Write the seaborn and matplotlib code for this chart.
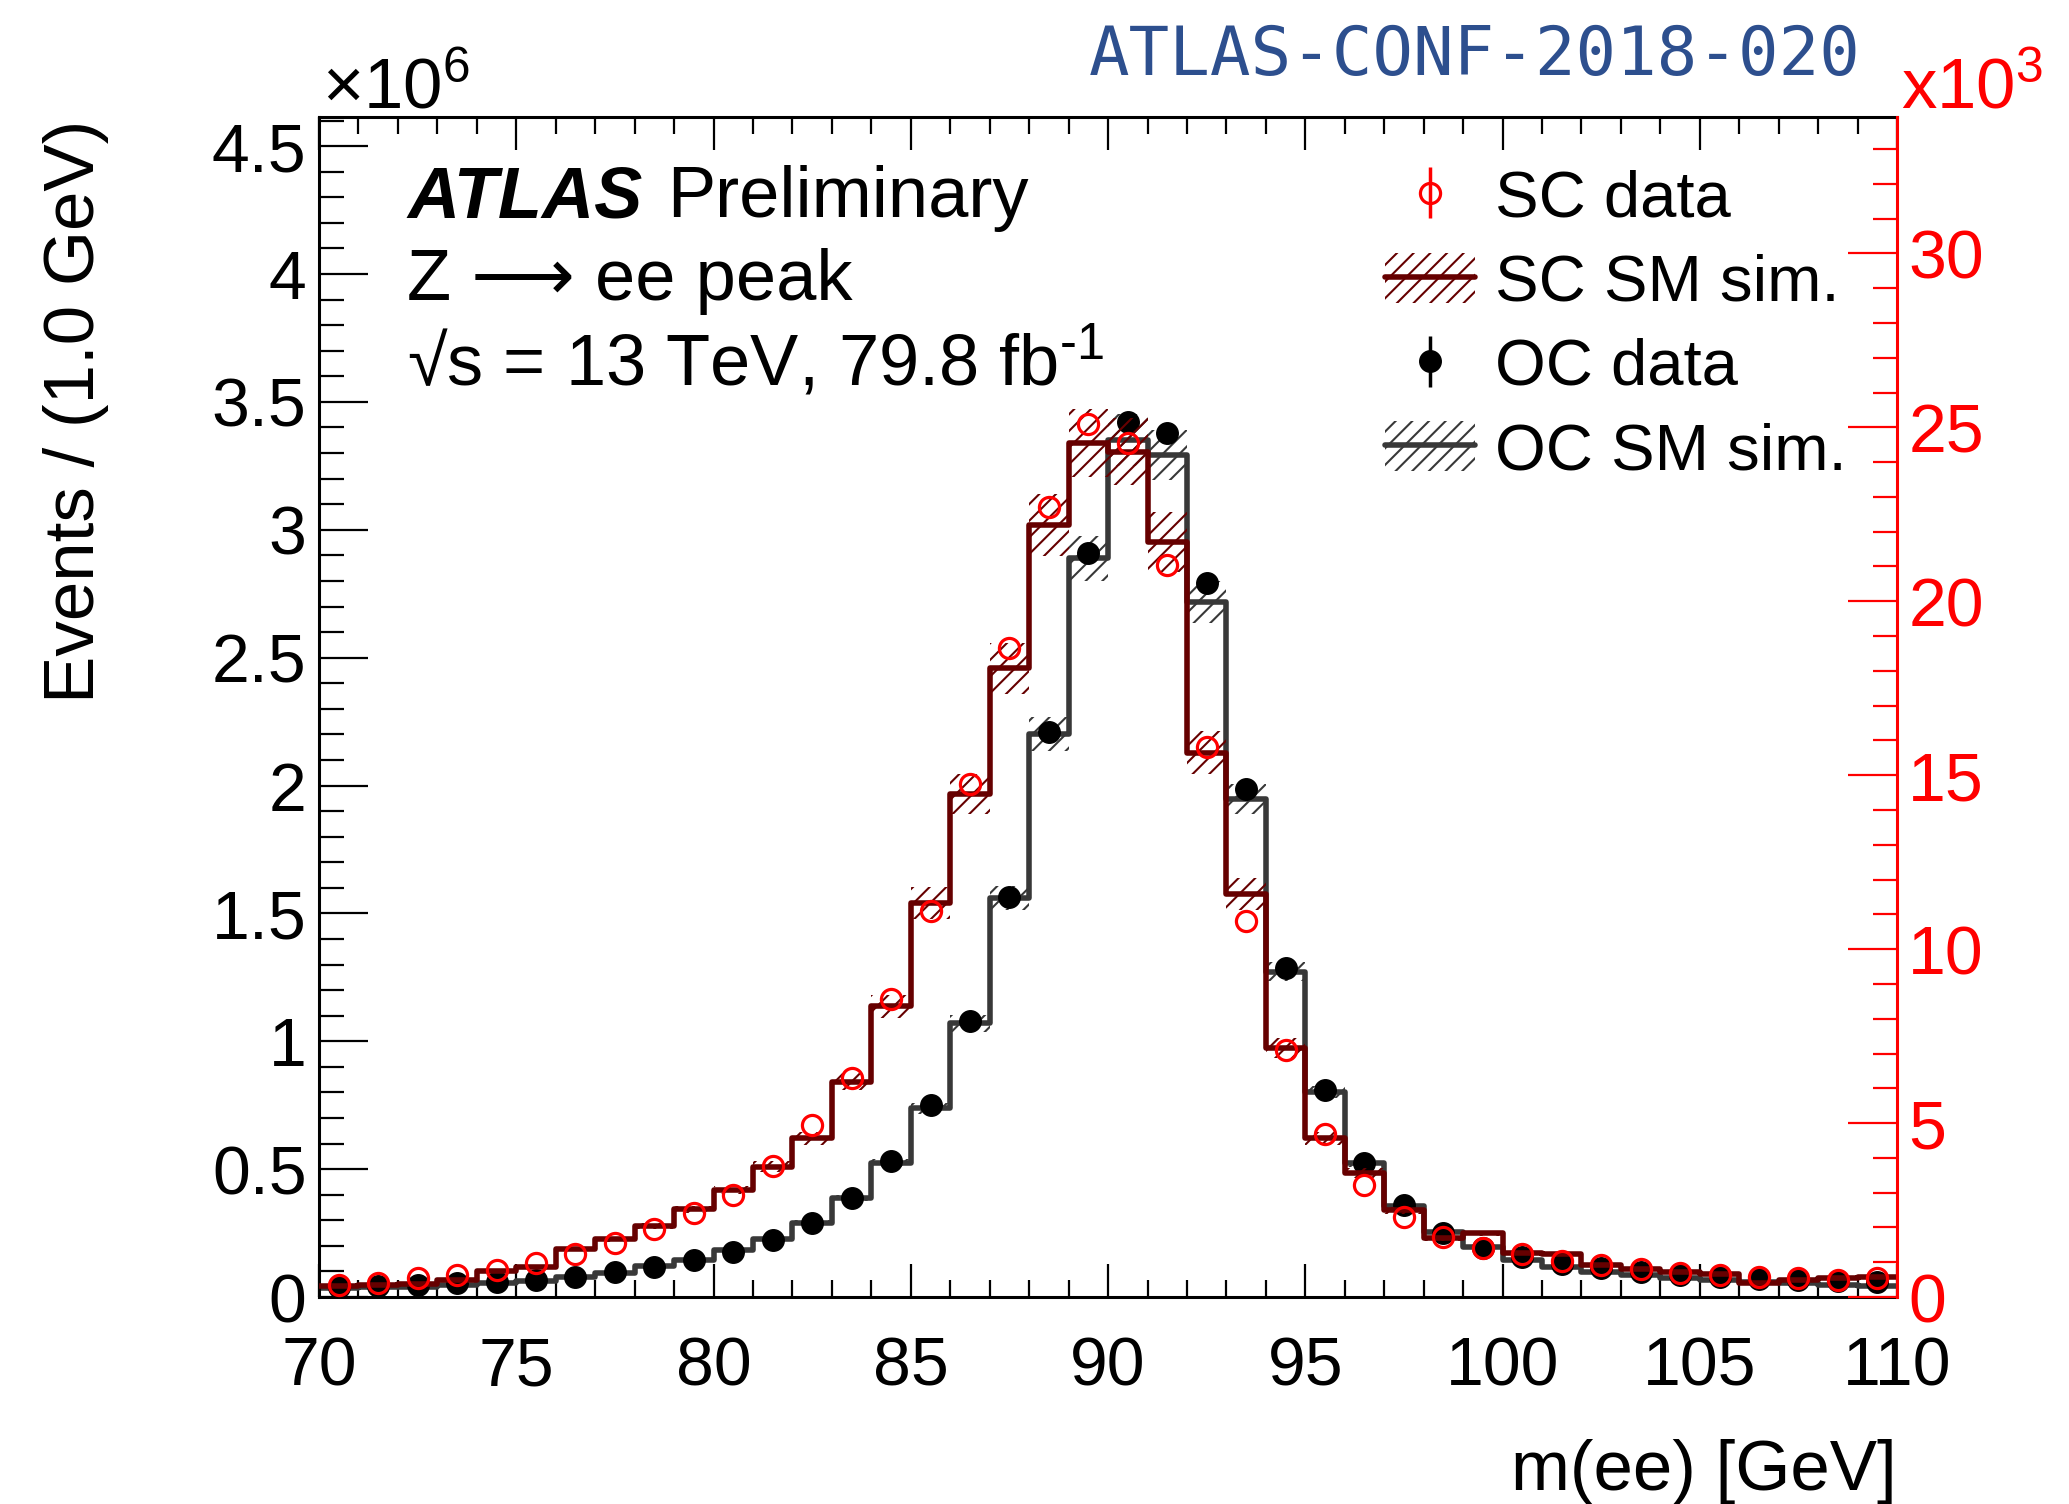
import numpy as np
import pandas as pd
import matplotlib
matplotlib.use("Agg")
import matplotlib.pyplot as plt
import seaborn as sns
from matplotlib.patches import Patch
from matplotlib.lines import Line2D
from matplotlib.ticker import MultipleLocator, FormatStrFormatter
from matplotlib.legend_handler import HandlerErrorbar, HandlerTuple

sns.set_style("ticks")
plt.rcParams['font.family'] = ['Liberation Sans', 'DejaVu Sans']
plt.rcParams['mathtext.fontset'] = 'custom'
plt.rcParams['mathtext.rm'] = 'Liberation Sans'
plt.rcParams['mathtext.it'] = 'Liberation Sans:italic'
plt.rcParams['mathtext.bf'] = 'Liberation Sans:bold'
plt.rcParams['hatch.linewidth'] = 1.5
for k in ['text.color', 'axes.labelcolor', 'xtick.color', 'ytick.color', 'axes.edgecolor']:
    plt.rcParams[k] = 'black'

# bins de 1 GeV entre 70 y 110 GeV
bordes = np.arange(70, 111, 1)
centros = bordes[:-1] + 0.5

# OC (eje izquierdo, x10^6 eventos)
oc_data = [0.040, 0.045, 0.049, 0.053, 0.058, 0.066, 0.079, 0.099, 0.119, 0.145,
           0.177, 0.223, 0.291, 0.386, 0.533, 0.751, 1.080, 1.565, 2.210, 2.910,
           3.423, 3.377, 2.791, 1.985, 1.285, 0.809, 0.523, 0.360, 0.249, 0.190,
           0.158, 0.129, 0.112, 0.099, 0.086, 0.079, 0.069, 0.066, 0.062, 0.060]
oc_sim = [0.034, 0.038, 0.040, 0.047, 0.053, 0.064, 0.079, 0.095, 0.121, 0.145,
          0.184, 0.226, 0.291, 0.386, 0.523, 0.738, 1.070, 1.560, 2.201, 2.888,
          3.351, 3.292, 2.719, 1.946, 1.272, 0.803, 0.523, 0.356, 0.255, 0.197,
          0.145, 0.116, 0.099, 0.086, 0.073, 0.066, 0.060, 0.053, 0.047, 0.043]

# SC (eje derecho, x10^3 eventos)
sc_data = [0.345, 0.39, 0.54, 0.63, 0.78, 0.99, 1.23, 1.54, 1.95, 2.41,
           2.93, 3.77, 4.94, 6.29, 8.56, 11.1, 14.75, 18.65, 22.72, 25.11,
           24.54, 21.04, 15.82, 10.82, 7.10, 4.70, 3.22, 2.31, 1.73, 1.40,
           1.23, 1.03, 0.92, 0.80, 0.68, 0.63, 0.58, 0.54, 0.49, 0.54]
sc_sim = [0.33, 0.34, 0.38, 0.48, 0.76, 0.87, 1.37, 1.66, 2.04, 2.52,
          3.08, 3.75, 4.56, 6.19, 8.36, 11.32, 14.45, 18.07, 22.19, 24.54,
          24.30, 21.71, 15.65, 11.58, 7.15, 4.56, 3.56, 2.50, 1.69, 1.83,
          1.26, 1.24, 0.92, 0.82, 0.73, 0.65, 0.39, 0.49, 0.54, 0.58]

# incertidumbre relativa de la simulacion (banda rayada)
oc_unc = 0.03
sc_unc = 0.04

rojo = '#ff0000'
rojo_osc = '#660000'
gris = '#383838'
lw_hist = 4.0

df = pd.DataFrame({'mee': centros, 'oc_sim': oc_sim, 'sc_sim': sc_sim})

fig = plt.figure(figsize=(20.69, 15.04), dpi=100)
ax = fig.add_axes([0.1542, 0.1376, 0.7627, 0.7846])
ax2 = ax.twinx()


def engrosar(eje):
    # seaborn deja la linea fina: se fuerza el grosor del contorno
    for ln in eje.lines:
        ln.set_linewidth(lw_hist)
    for col in eje.collections:
        col.set_linewidth(lw_hist)


# --- OC ---
oc_sim_a = np.array(oc_sim)
ax.stairs(oc_sim_a * (1 + oc_unc), bordes, baseline=oc_sim_a * (1 - oc_unc), fill=True,
          hatch='//', facecolor='none', edgecolor=gris, linewidth=0)
sns.histplot(data=df, x='mee', weights='oc_sim', binwidth=1, binrange=(70, 110),
             element='step', fill=False, color=gris, linewidth=lw_hist, ax=ax)
engrosar(ax)
ax.errorbar(centros, oc_data, yerr=np.zeros(len(centros)), fmt='o', color='black',
            markersize=15.5, elinewidth=2.5, capsize=0, zorder=5)

# --- SC ---
sc_sim_a = np.array(sc_sim)
ax2.stairs(sc_sim_a * (1 + sc_unc), bordes, baseline=sc_sim_a * (1 - sc_unc), fill=True,
           hatch='//', facecolor='none', edgecolor=rojo_osc, linewidth=0)
sns.histplot(data=df, x='mee', weights='sc_sim', binwidth=1, binrange=(70, 110),
             element='step', fill=False, color=rojo_osc, linewidth=lw_hist, ax=ax2)
engrosar(ax2)
sc_cont = ax2.errorbar(centros, sc_data, yerr=np.zeros(len(centros)), fmt='o', color=rojo,
                       markerfacecolor='none', markeredgecolor=rojo, markersize=14.5,
                       markeredgewidth=2.3, elinewidth=2.5, capsize=0, zorder=6)

# --- ejes ---
ax.set_xlim(70, 110)
ax.set_ylim(0, 4.614)
ax2.set_ylim(0, 33.92)
ax.set_xlabel('')
ax.set_ylabel('')
ax2.set_ylabel('')

ax.xaxis.set_major_locator(MultipleLocator(5))
ax.xaxis.set_minor_locator(MultipleLocator(1))
ax.yaxis.set_major_locator(MultipleLocator(0.5))
ax.yaxis.set_minor_locator(MultipleLocator(0.1))
ax2.yaxis.set_major_locator(MultipleLocator(5))
ax2.yaxis.set_minor_locator(MultipleLocator(1))
ax.xaxis.set_major_formatter(FormatStrFormatter('%g'))
ax.yaxis.set_major_formatter(FormatStrFormatter('%g'))
ax2.yaxis.set_major_formatter(FormatStrFormatter('%g'))

for s in ['left', 'top', 'bottom']:
    ax.spines[s].set_linewidth(2.2)
    ax.spines[s].set_color('black')
ax.spines['right'].set_visible(False)
for s in ['left', 'top', 'bottom']:
    ax2.spines[s].set_visible(False)
ax2.spines['right'].set_color(rojo)
ax2.spines['right'].set_linewidth(2.2)

ax.tick_params(axis='x', which='both', direction='in', top=True, bottom=True,
               labelsize=49, pad=28, width=1.6, colors='black')
ax.tick_params(axis='x', which='major', length=24)
ax.tick_params(axis='x', which='minor', length=12)
ax.tick_params(axis='y', which='both', direction='in', left=True, right=False,
               labelsize=49, pad=9, width=1.6, colors='black')
ax.tick_params(axis='y', which='major', length=35)
ax.tick_params(axis='y', which='minor', length=18)
ax2.tick_params(axis='y', which='both', direction='in', colors=rojo,
                labelsize=49, pad=8, width=1.6)
ax2.tick_params(axis='y', which='major', length=35)
ax2.tick_params(axis='y', which='minor', length=17.5)

# --- textos ---
W, H = 2069.0, 1504.0
fig.text(76 / W, 1 - 120 / H, 'Events / (1.0 GeV)', rotation=90, ha='center', va='top', fontsize=51)
fig.text(1897 / W, 1 - 1490 / H, 'm(ee) [GeV]', ha='right', va='baseline', fontsize=51)
fig.text(322 / W, 1 - 108 / H, '×10$^{6}$', ha='left', va='baseline', fontsize=51)
fig.text(1901 / W, 1 - 108 / H, 'x10$^{3}$', ha='left', va='baseline', fontsize=51, color=rojo)
fig.text(1089 / W, 1 - 75 / H, 'ATLAS-CONF-2018-020', ha='left', va='baseline',
         fontsize=48.5, family='DejaVu Sans Mono', color='#2d4f8e')

fig.text(407 / W, 1 - 217 / H, 'ATLAS', ha='left', va='baseline', fontsize=52,
         weight='bold', style='italic')
fig.text(667 / W, 1 - 217 / H, 'Preliminary', ha='left', va='baseline', fontsize=52)
fig.text(407 / W, 1 - 300 / H, 'Z ⟶ ee peak', ha='left', va='baseline', fontsize=52)
fig.text(407 / W, 1 - 385 / H, '√s = 13 TeV, 79.8 fb$^{\\text{-1}}$',
         ha='left', va='baseline', fontsize=52)

# --- leyenda ---
h_sc_sim = (Patch(facecolor='none', edgecolor=rojo_osc, hatch='//', linewidth=0),
            Line2D([], [], color=rojo_osc, linewidth=lw_hist))
h_oc_data = ax.errorbar([], [], yerr=[], fmt='o', color='black', markersize=15.5,
                        elinewidth=2.5, capsize=0)
h_oc_sim = (Patch(facecolor='none', edgecolor=gris, hatch='//', linewidth=0),
            Line2D([], [], color=gris, linewidth=lw_hist))

leg = ax2.legend([sc_cont, h_sc_sim, h_oc_data, h_oc_sim],
                 ['SC data', 'SC SM sim.', 'OC data', 'OC SM sim.'],
                 loc='upper left', bbox_to_anchor=(1385 / W, 1 - 169 / H),
                 bbox_transform=fig.transFigure, frameon=False, fontsize=47,
                 handlelength=1.38, handleheight=0.8, handletextpad=0.3,
                 labelspacing=0.36, borderpad=0, borderaxespad=0,
                 handler_map={type(sc_cont): HandlerErrorbar(yerr_size=0.39),
                              tuple: HandlerTuple(ndivide=1)})
for t in leg.get_texts():
    t.set_color('black')

fig.savefig('out.png', dpi=100)
